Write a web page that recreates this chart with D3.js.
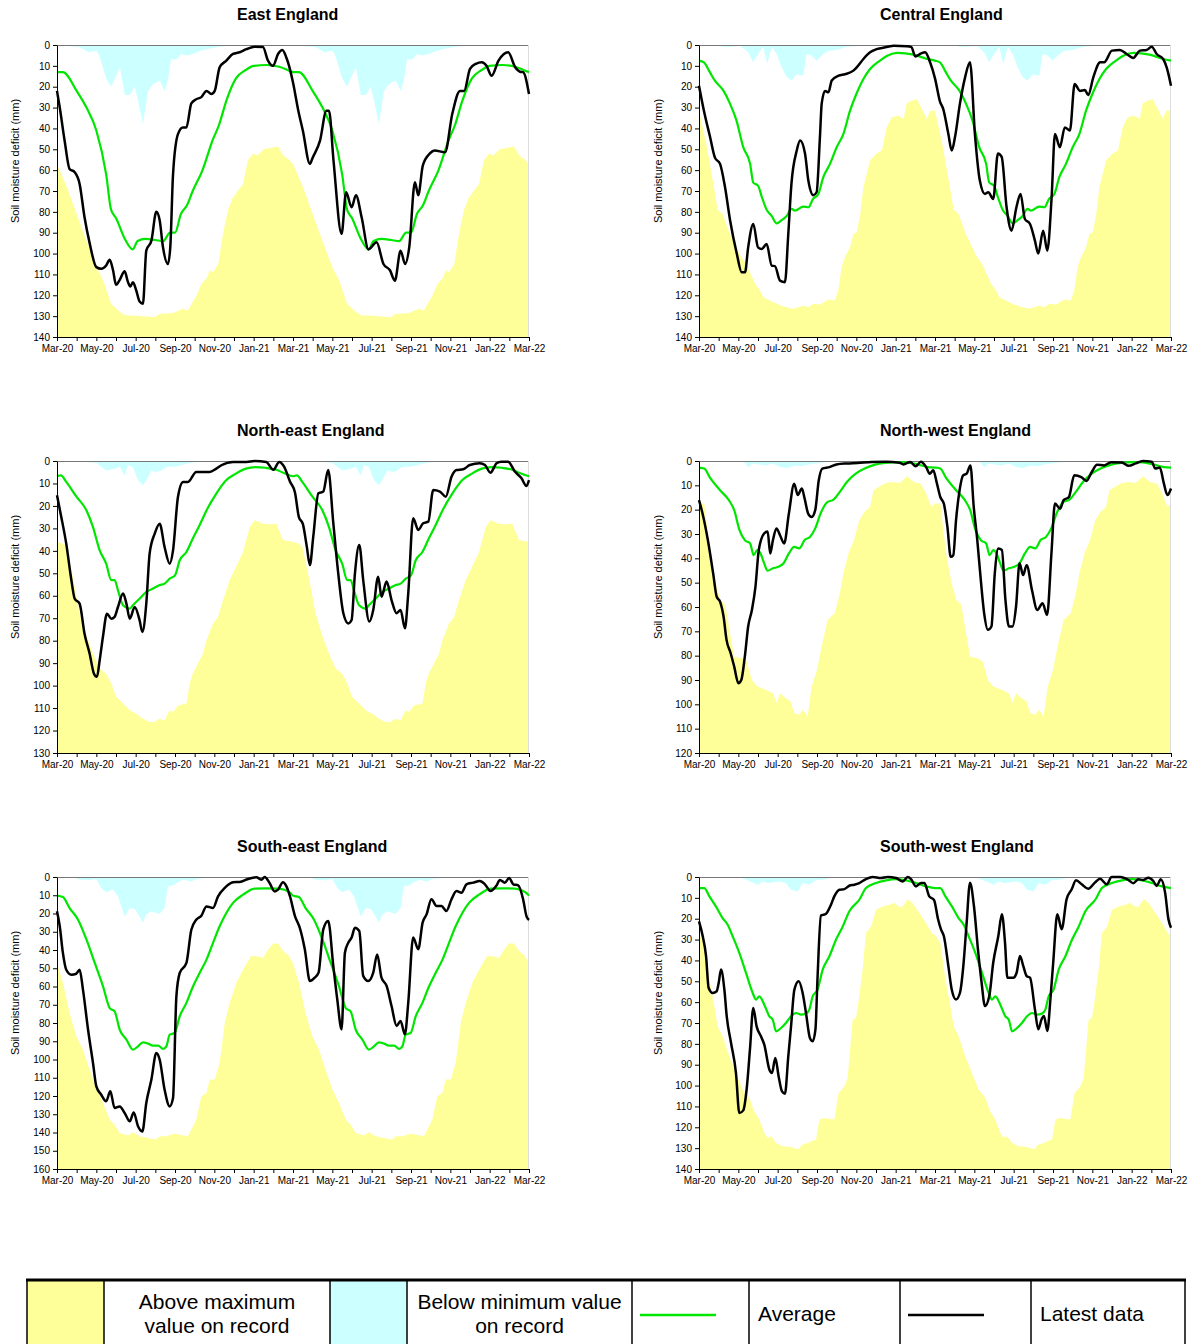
<!DOCTYPE html>
<html>
<head>
<meta charset="utf-8">
<script src="https://cdn.jsdelivr.net/npm/d3@7"></script>
<style>
  body { margin: 0; background: #fff; }
  svg { display: block; font-family: "Liberation Sans", Arial, sans-serif; }
</style>
</head>
<body>
<svg id="chart" width="1192" height="1344"></svg>
<script>
"use strict";

// x values are months after Mar-20 (0 = Mar-20, 24 = Mar-22)
const tickLabels = ["Mar-20", "May-20", "Jul-20", "Sep-20", "Nov-20", "Jan-21", "Mar-21",
                    "May-21", "Jul-21", "Sep-21", "Nov-21", "Jan-22", "Mar-22"];

// long term statistics, one year (Mar to Mar), the same for both years shown
const eastAvg = [[0,13],[0.3,13],[1,22],[1.5,30],[2,41],[2.5,62],[2.75,79],[3,83],[3.45,93],[3.85,98],[4.1,94],[4.5,93],[5,93.5],[5.4,94],[5.75,90],[6,90],[6.3,81],[6.6,77],[6.9,70],[7.4,60],[7.9,46],[8.25,38],[8.6,27],[9.1,16],[9.6,12],[10,10],[10.65,9.6],[11.3,10.4],[11.8,12.3],[12,13]];
const eastMax = [[0,57],[0.5,68],[1,81],[1.5,94],[2,106.5],[2.35,113],[2.75,124],[3.2,128],[3.5,129.7],[3.85,129.7],[4.37,130],[4.97,130.5],[5.2,129],[5.9,128.5],[6.4,126.5],[6.65,127.3],[7.1,120],[7.35,114.5],[7.6,112],[7.77,108],[7.93,109],[8.2,105],[8.44,90.5],[8.7,79],[8.95,73],[9.46,66.6],[9.7,55.4],[9.97,52],[10.2,53],[10.5,50],[11.24,48.7],[11.5,53],[11.8,55],[12,57]];
const eastMin = [[0,0],[0.3,0],[0.65,0.6],[1.15,1],[1.6,3.5],[2,2.7],[2.15,5],[2.5,16],[2.75,20],[3,14.7],[3.2,10.7],[3.45,24],[3.7,24],[3.95,20],[4.12,26.7],[4.37,38],[4.63,22],[4.88,18.7],[5.05,18],[5.22,17],[5.47,22],[5.64,17],[5.8,6.7],[6.07,7],[6.32,4.3],[6.58,5],[6.9,4.3],[7.25,3],[7.6,2],[8.27,0.8],[9.1,0],[12,0]];
const eastLatest = [[0,22],[0.14,30],[0.39,46],[0.64,59.4],[0.9,61],[1.15,66.6],[1.4,82.6],[1.66,95],[2,106.5],[2.25,107.3],[2.5,105.7],[2.68,103],[2.85,108],[3,115],[3.19,112.6],[3.44,108.5],[3.61,113.7],[3.73,115.8],[3.86,113.7],[4.03,117.7],[4.2,123],[4.37,124],[4.54,98.6],[4.8,93.8],[5.05,80],[5.22,84],[5.39,97],[5.64,105],[5.76,97],[5.9,62],[6.15,42.7],[6.4,39.5],[6.58,39.5],[6.83,28],[7.08,26],[7.34,25],[7.6,22],[7.85,23.5],[8.02,22],[8.27,10.7],[8.61,7.5],[8.95,4.3],[9.29,3.5],[9.63,2],[10.05,0.8],[10.47,1],[10.73,7.5],[10.98,10],[11.24,4.3],[11.46,2.4],[11.66,6],[11.8,10],[12,18],[12.27,31.5],[12.5,41],[12.86,57],[13,54],[13.37,46],[13.7,31.5],[13.83,31.5],[14.06,55.4],[14.47,90.5],[14.7,70.6],[14.98,77.8],[15.2,72],[15.49,82.6],[15.84,98],[16.25,94.6],[16.6,105],[16.93,108],[17.18,113],[17.47,98.6],[17.7,105],[17.91,97],[18.2,65.8],[18.37,72],[18.6,57.8],[18.96,52],[19.2,50.6],[19.73,51.4],[20.1,33],[20.49,22],[20.7,22],[21,11.5],[21.3,9],[21.6,8.3],[21.84,10],[22.1,14.7],[22.45,7.5],[22.94,3.5],[23.3,10.7],[23.54,12.8],[23.7,13],[24,23.5]];

const centralAvg = [[0,7.5],[0.25,8.3],[0.55,13],[0.8,17],[1.25,22],[1.57,28],[1.9,36],[2.25,49],[2.6,57],[2.76,66],[3,67.4],[3.2,73],[3.44,79],[3.7,82],[3.95,85.5],[4.2,84],[4.46,82],[4.7,78.6],[4.88,79.4],[5.3,77.5],[5.56,77.8],[5.8,73.8],[6.07,71.4],[6.32,63.4],[6.66,57],[7,49],[7.34,42.7],[7.68,31.5],[8,23.5],[8.36,16.3],[8.7,11.5],[9.2,7.5],[9.6,5],[10.1,3.8],[10.9,4.6],[11.6,6.7],[12,7.5]];
const centralMax = [[0,31.5],[0.36,47],[0.7,65],[0.95,79],[1.2,81],[1.57,90.6],[2.1,101],[2.4,105],[2.85,114.5],[3.1,117.7],[3.27,121],[3.78,123.3],[4.3,125.4],[4.8,126.5],[5.3,125],[5.56,125.7],[5.8,124],[6.15,124.4],[6.58,122],[6.9,122.5],[7.08,117.7],[7.25,106.5],[7.42,101.8],[7.68,97],[7.85,90.6],[8.02,89.8],[8.2,81],[8.36,68],[8.7,55.4],[9.03,52],[9.3,50.6],[9.54,39.5],[9.8,34.7],[10.13,33.9],[10.4,35.5],[10.56,28],[10.8,26.7],[11.07,26],[11.3,30],[11.58,35.5],[11.75,31.5],[12,31.5]];
const centralMin = [[0,0],[0.9,0],[1.22,0.8],[1.58,1],[2.1,0.3],[2.5,3.5],[2.76,8.3],[3,4.3],[3.27,1],[3.47,9],[3.7,1],[3.95,4.3],[4.2,10.7],[4.46,15.5],[4.71,17],[4.97,14],[5.3,14.7],[5.47,4.3],[5.73,5],[5.98,7.5],[6.32,4.3],[6.58,2.7],[7,2.4],[7.5,1],[8.2,0.3],[8.9,0],[12,0]];
const centralLatest = [[0,19.5],[0.25,31.5],[0.56,44],[0.81,54],[1.07,57],[1.32,68],[1.58,84],[1.92,100],[2.17,109],[2.34,109],[2.5,97],[2.76,85.8],[3,97],[3.19,97.8],[3.44,95.4],[3.7,105.8],[3.86,106],[4.12,113],[4.37,113.7],[4.54,90.6],[4.7,66.6],[4.97,50.6],[5.14,45.8],[5.39,52],[5.56,65],[5.81,72],[5.98,70.6],[6.15,44],[6.24,28],[6.41,22],[6.58,22.7],[6.75,17],[7.1,14.7],[7.42,14],[7.85,12.3],[8.02,10.7],[8.36,6.7],[8.7,3.5],[9.03,2],[9.54,1],[9.9,0.3],[10.56,0.6],[10.8,1],[11,5.5],[11.3,4],[11.5,3.5],[11.75,8.3],[12,16],[12.25,27],[12.42,30.7],[12.68,42.7],[12.85,50.6],[13.02,44],[13.27,28],[13.53,15.5],[13.78,8.3],[14.03,42.7],[14.28,65],[14.54,71.4],[14.71,70.6],[14.96,73.8],[15.2,52],[15.39,53.6],[15.64,77.8],[15.89,89],[16.14,77.8],[16.35,71.4],[16.57,83.4],[16.83,85.8],[17.08,93.8],[17.25,100],[17.5,89],[17.71,98.6],[17.93,73],[18.1,42.7],[18.35,49],[18.6,39.5],[18.86,41],[19.1,18.7],[19.37,22],[19.62,21.6],[19.79,24],[20.05,15.5],[20.4,8.3],[20.6,8.3],[21,2.7],[21.4,2.4],[21.74,4.3],[22.08,6.2],[22.42,2.7],[22.76,2.4],[23.02,0.8],[23.27,4.3],[23.6,6.7],[23.78,10.7],[24,19.5]];

const neAvg = [[0,6.8],[0.2,6.4],[0.47,9.3],[1,16],[1.5,22],[1.83,29.4],[2.17,39.8],[2.5,45.7],[2.76,53],[2.93,53],[3.1,57.6],[3.36,64.2],[3.7,65.7],[3.86,64.2],[4.2,61.3],[4.54,58.3],[4.88,56.8],[5.2,55.3],[5.47,54.6],[5.73,52.4],[6,50.9],[6.24,44.2],[6.58,40.5],[6.9,34.6],[7.25,28.6],[7.6,22],[8.1,14.5],[8.6,8.6],[9.1,5.6],[9.6,3.4],[10.1,2.7],[10.6,3],[11.15,3.9],[11.6,5.6],[12,6.8]];
const neMax = [[0,36],[0.3,36.8],[0.47,38],[0.8,51.6],[1.15,68],[1.5,78],[1.83,85.8],[2.17,92.4],[2.5,94.7],[2.76,99],[3,105],[3.36,108],[3.7,111],[4.03,112.5],[4.37,114.7],[4.7,116.2],[4.97,116.2],[5.2,114.7],[5.47,115.4],[5.73,111],[5.9,111.7],[6.15,108.8],[6.58,108],[6.75,99],[6.9,94.7],[7.17,90.2],[7.42,85.8],[7.6,79.8],[7.93,72.4],[8.19,69.4],[8.44,62],[8.78,53],[9.1,47.2],[9.46,40.5],[9.8,29.4],[10.05,26.4],[10.47,27.9],[10.81,28.2],[11.15,27.9],[11.5,35.3],[12,36]];
const neMin = [[0,0],[1.3,0],[1.5,0.4],[2,0.9],[2.5,4.2],[2.93,3.4],[3.2,2.7],[3.44,6.4],[3.61,1.9],[3.86,2.7],[4.12,8.6],[4.37,10.8],[4.54,8.6],[4.8,4.2],[5.05,4.9],[5.3,4.2],[5.56,2.7],[6.07,2.4],[6.58,1.2],[7.08,0.4],[7.25,0],[12,0]];
const neLatest = [[0,15.3],[0.22,25],[0.47,36.8],[0.73,53],[0.9,61.3],[1.15,63.5],[1.4,76.9],[1.66,85.8],[1.88,94.7],[2.03,96.1],[2.17,88.7],[2.34,78],[2.54,68],[2.76,70.2],[2.93,69.4],[3.1,65],[3.36,59],[3.53,63.5],[3.7,70.2],[3.95,65],[4.2,70.9],[4.34,76.1],[4.54,63.5],[4.71,41.2],[4.97,32.3],[5.22,27.9],[5.47,38.3],[5.73,45.7],[5.9,39.8],[6.15,16],[6.41,9.3],[6.66,9.3],[7.08,4.9],[7.42,4.9],[7.76,4.9],[8.1,3.4],[8.36,1.9],[8.95,0.4],[9.63,0.4],[10.05,0],[10.64,0.4],[11,3.9],[11.3,0.4],[11.56,2.7],[11.84,9],[12.1,14],[12.3,25],[12.5,28],[12.7,38],[12.86,46.3],[13.03,33.7],[13.29,14.4],[13.54,13.6],[13.79,4],[14.05,27.7],[14.3,50],[14.56,67.8],[14.81,72.3],[14.98,70.8],[15.15,50],[15.37,37.4],[15.57,53],[15.88,71.5],[16.08,66.3],[16.33,51.5],[16.5,60.4],[16.76,53.7],[17.01,61.9],[17.27,67.8],[17.47,66.3],[17.69,74.5],[17.86,58.9],[18.11,25.5],[18.37,30.7],[18.62,27.7],[18.88,27],[19.13,12.9],[19.47,13.6],[19.77,15.9],[20.06,7],[20.31,4],[20.65,3.7],[20.99,1.8],[21.5,1],[21.76,1.8],[22.04,5.2],[22.35,1],[22.6,0.3],[22.94,0.3],[23.28,4.7],[23.62,7.7],[23.87,11.1],[24,8.5]];

const nwAvg = [[0,2.7],[0.27,3.1],[0.54,6.6],[1.07,12],[1.52,16.1],[1.79,20.2],[2.06,28.4],[2.33,32.5],[2.6,33.9],[2.78,38.7],[2.96,36.6],[3.13,38],[3.31,42],[3.49,45.1],[3.76,44.1],[4.03,43.5],[4.3,42],[4.57,38],[4.84,35.3],[5.1,35.9],[5.37,32.5],[5.64,31.2],[5.91,27.7],[6.18,21.6],[6.54,16.8],[6.8,16.1],[7.16,12.7],[7.52,8.6],[7.97,5.2],[8.42,3.1],[8.96,1.5],[9.5,0.8],[10.03,0.5],[10.57,0.6],[11.1,1.4],[11.64,2.5],[12,2.7]];
const nwMax = [[0,17.5],[0.27,17.5],[0.54,36.6],[0.81,49],[1.07,57],[1.34,59],[1.52,68],[1.79,80.4],[2.15,81],[2.42,82.4],[2.69,90],[2.96,92.7],[3.4,94],[3.76,95.4],[3.94,99.5],[4.12,95.4],[4.39,97.4],[4.66,98.8],[4.84,103.6],[5.1,104.3],[5.28,102.2],[5.52,105],[5.73,92.7],[6,85.8],[6.27,74.9],[6.54,65.3],[6.9,62.6],[7.16,54.4],[7.34,46.2],[7.6,38],[7.88,32.5],[8.15,24.3],[8.42,20.9],[8.69,18.9],[8.87,12],[9.13,10.7],[9.5,9],[9.85,8.6],[10.21,9],[10.57,6.3],[10.93,8.6],[11.28,9.3],[11.55,13.4],[11.82,18.9],[12,17.5]];
const nwMin = [[0,0],[2.1,0],[2.33,0.8],[2.51,2.7],[2.69,1],[3.04,1.4],[3.4,1.8],[3.76,1],[4.12,2.5],[4.48,2.9],[4.84,1.8],[5.19,2.2],[5.55,1.4],[5.91,1],[6.45,0.5],[6.99,0],[12,0]];
const nwLatest = [[0,16.1],[0.18,21.6],[0.45,32.5],[0.72,46.2],[0.9,55.8],[1.07,57.8],[1.25,64],[1.4,73.5],[1.61,79],[1.79,84.5],[2,91.3],[2.15,90],[2.33,80.4],[2.5,68],[2.69,61.2],[2.87,51.7],[3.04,36.6],[3.31,29.8],[3.49,29],[3.62,38],[3.76,32.5],[3.94,27.7],[4.12,30.5],[4.33,33.9],[4.57,21.6],[4.84,9.3],[5.02,14],[5.23,11.3],[5.37,15.4],[5.55,21.6],[5.73,23],[5.91,20.2],[6.09,7.9],[6.27,3.1],[6.63,2.5],[6.99,1.4],[7.52,1],[8.06,0.8],[8.78,0.4],[9.5,0.3],[10.2,0.7],[10.39,1.4],[10.75,0.4],[11.02,2.2],[11.28,0.3],[11.55,2.5],[11.73,5.2],[11.91,3.8],[12.1,9.3],[12.27,14.8],[12.45,17.5],[12.63,27],[12.8,39.4],[12.93,38.7],[13.07,24.3],[13.25,12],[13.43,5.9],[13.61,5.2],[13.8,1.8],[13.97,18.9],[14.15,32.5],[14.33,49],[14.5,62.6],[14.69,69.4],[14.87,68],[15.04,46.2],[15.22,36],[15.4,36.6],[15.58,57],[15.76,68],[15.94,68],[16.12,59.9],[16.3,42],[16.48,46.9],[16.66,42.8],[16.93,53],[17.2,61.2],[17.47,58.5],[17.7,63.3],[17.92,38],[18.1,17.5],[18.36,19.6],[18.54,16.1],[18.81,14.8],[19.08,5.9],[19.44,6.6],[19.7,8.2],[19.97,4.5],[20.24,1.5],[20.6,1.8],[20.96,0.5],[21.5,0.6],[21.85,2],[22.21,1],[22.57,0],[23.02,0.3],[23.2,3.1],[23.43,2.7],[23.64,9.3],[23.82,14],[24,11.3]];

const seAvg = [[0,10.2],[0.3,11],[0.64,17],[1.07,23.4],[1.5,34.3],[1.92,47.1],[2.34,59.9],[2.68,71.8],[2.93,73.6],[3.19,83.7],[3.53,89.1],[3.86,94.6],[4.12,92.8],[4.37,90.6],[4.63,91.3],[4.88,92.4],[5.14,92.4],[5.4,94.2],[5.56,92.8],[5.73,86.4],[5.98,85.5],[6.24,76.3],[6.58,69],[6.92,59.9],[7.25,52.6],[7.6,45.3],[7.93,36.2],[8.27,27],[8.61,19.7],[8.95,14.2],[9.46,9.7],[10.05,6.4],[10.64,6.2],[11.3,6.4],[11.83,8.4],[12,10.2]];
const seMax = [[0,47.1],[0.3,58],[0.64,74.5],[0.98,87.3],[1.32,94.6],[1.66,105.6],[2,116.5],[2.34,123.8],[2.68,133],[2.93,135.7],[3.19,140.3],[3.61,141.7],[3.86,139.9],[4.2,142.1],[4.63,143],[5.05,143.9],[5.22,142.1],[5.56,142.1],[6,140.6],[6.32,141.4],[6.66,142.1],[6.83,138.4],[7.08,133],[7.34,120.2],[7.6,118.4],[7.76,111],[8.02,111],[8.27,101.9],[8.53,80],[8.78,69],[9.12,58],[9.46,50.8],[9.88,43.1],[10.22,43.5],[10.47,44.4],[10.73,39.8],[10.98,36.5],[11.24,36.5],[11.5,40.7],[11.75,42.6],[12,47.1]];
const seMin = [[0,0],[0.8,0],[1.15,1.5],[1.66,1.8],[2,1.1],[2.25,6],[2.5,8.4],[2.85,6.9],[3.1,10.6],[3.27,16.1],[3.44,21.6],[3.7,17],[3.95,17.5],[4.2,21.6],[4.37,25.2],[4.54,20.6],[4.8,18.8],[5.05,19.7],[5.22,20.1],[5.47,17],[5.64,5.1],[5.9,4.7],[6.15,2.9],[6.41,1.5],[6.83,2.4],[7.08,1.1],[7.6,0.5],[8.27,0],[12,0]];
const seLatest = [[0,18.8],[0.14,27],[0.3,41.6],[0.47,50.8],[0.73,53.5],[0.98,53],[1.15,50.8],[1.32,61.7],[1.58,83.7],[1.83,101.9],[2,114.7],[2.25,119.3],[2.5,122.9],[2.71,117.4],[2.93,126.6],[3.19,125.7],[3.44,129.3],[3.7,133.9],[3.9,129],[4.12,136.6],[4.34,139.4],[4.54,123.8],[4.8,111],[5.05,96.4],[5.22,100],[5.47,116.5],[5.73,125.7],[5.9,121.1],[6.07,65.4],[6.24,52.6],[6.58,47.1],[6.83,28.9],[7.08,23.4],[7.34,21.2],[7.6,16.1],[7.93,17],[8.19,10.6],[8.53,6],[8.95,2.9],[9.29,2.7],[9.71,1.1],[10.14,0.2],[10.39,1.5],[10.56,0],[10.81,3.3],[11.07,7.9],[11.24,6.9],[11.49,2.9],[11.66,5],[11.84,10.4],[12.1,21.4],[12.35,28],[12.6,39.6],[12.86,57],[13.1,55.2],[13.3,52.4],[13.54,28.7],[13.79,24.1],[14.05,48.8],[14.25,67],[14.47,83.5],[14.64,41.5],[14.81,36],[14.98,33.2],[15.15,27.8],[15.37,29.6],[15.57,54.2],[15.82,57],[16.08,52.4],[16.28,42.4],[16.5,55.2],[16.76,59.7],[17.01,70.7],[17.27,81.6],[17.47,78.9],[17.69,86.2],[17.86,68.9],[18.11,33.2],[18.37,39.6],[18.59,25],[18.79,20.5],[19.04,12.2],[19.3,15.9],[19.55,15.9],[19.8,18.6],[20.06,12.2],[20.31,7.7],[20.57,8.6],[20.82,4],[21.16,3.1],[21.5,2.2],[21.76,4],[22.04,7.7],[22.35,4.6],[22.52,1.6],[22.77,3.1],[22.99,0.5],[23.2,4],[23.45,4.6],[23.7,12.2],[23.87,21.4],[24,23.6]];

const swAvg = [[0,5.3],[0.27,5.3],[0.53,9.3],[0.86,14.1],[1.2,19.7],[1.46,22.9],[1.71,28.4],[2.05,36.4],[2.39,46],[2.73,55.6],[2.9,58.8],[3.07,57.2],[3.32,61.2],[3.58,66.8],[3.75,68.4],[3.92,74],[4.17,72.4],[4.42,70],[4.68,66.8],[4.93,65.2],[5.19,66],[5.44,65.5],[5.61,63.6],[5.78,57.2],[6.03,54],[6.29,44.4],[6.63,38],[6.97,30],[7.31,23.7],[7.64,16.5],[8.15,10.9],[8.49,5.3],[9,2.9],[9.51,1.6],[10.02,1],[10.53,1.6],[11.03,2.9],[11.54,4.5],[12,5.3]];
const swMax = [[0,27.6],[0.27,31.6],[0.53,49.2],[0.78,62],[0.95,71.6],[1.2,76.4],[1.54,86],[1.88,94],[2.22,102],[2.56,106],[2.81,112.4],[3.07,116.3],[3.32,122.7],[3.49,125.1],[3.66,124.3],[3.92,127.5],[4.25,129.1],[4.68,129.5],[5.02,130.7],[5.27,128.3],[5.53,127.5],[5.7,126.7],[5.95,126],[6.12,116.3],[6.37,115.5],[6.63,116],[6.88,116.3],[7.1,103.6],[7.39,100.4],[7.56,96.4],[7.81,68.4],[7.98,67.6],[8.15,57.2],[8.32,44.4],[8.49,26.8],[8.75,23.7],[9,15.7],[9.34,14.1],[9.68,13.3],[9.93,12.5],[10.19,14.4],[10.36,14.1],[10.61,10.5],[10.86,12.5],[11.2,17.3],[11.54,22],[11.88,27.6],[12,27.6]];
const swMin = [[0,0],[2.05,0],[2.39,1.3],[2.73,2.6],[2.98,3.7],[3.24,2.1],[3.49,2.9],[3.75,2.6],[4.08,2.1],[4.42,2.9],[4.68,6.1],[5.02,6.9],[5.27,2.9],[5.61,3.7],[5.95,1.6],[6.29,1.3],[6.71,0.5],[7.14,0],[12,0]];
const swLatest = [[0,21.3],[0.19,28.4],[0.36,38],[0.49,53.2],[0.7,55.6],[0.9,54.8],[1,50.8],[1.12,44.4],[1.29,54],[1.41,66.8],[1.63,79.6],[1.88,94],[2.05,113.2],[2.25,111.9],[2.42,102],[2.59,82.8],[2.76,62.8],[2.93,71.6],[3.15,76.4],[3.32,80.4],[3.58,92.4],[3.71,94],[3.88,86.8],[4.05,95.6],[4.22,102.8],[4.37,103.9],[4.54,86],[4.68,71.6],[4.85,54],[5.07,50],[5.27,55.6],[5.44,65.2],[5.64,77.2],[5.78,78.8],[5.92,73.2],[6.03,47.6],[6.2,18.5],[6.46,17.6],[6.71,13.3],[6.88,9.3],[7.14,6.1],[7.39,5.8],[7.64,4.2],[7.9,3.7],[8.15,2.9],[8.49,1],[8.83,0],[9.25,0.5],[9.59,0],[10.02,0.5],[10.36,2.1],[10.61,0],[10.78,1],[11.03,4.5],[11.29,2.9],[11.46,2.9],[11.71,9.3],[11.95,11],[12.15,20],[12.3,25],[12.45,28.3],[12.68,42.7],[12.85,53.9],[13.07,58.7],[13.27,55.5],[13.44,42.7],[13.61,21.9],[13.78,2.7],[13.98,13.9],[14.2,36.3],[14.37,50.7],[14.54,61.9],[14.76,57.1],[14.96,41.1],[15.22,28.3],[15.4,17.9],[15.56,31.5],[15.68,48.3],[15.98,48.3],[16.15,45.9],[16.32,37.9],[16.49,42.7],[16.66,47.5],[16.83,48.3],[17.08,63.4],[17.25,73],[17.42,68.2],[17.54,66.6],[17.71,73.8],[17.88,57.1],[18.01,41.1],[18.22,17.9],[18.44,25.1],[18.69,10.7],[18.95,5.9],[19.17,1.6],[19.46,3.5],[19.79,5.6],[20.13,2.7],[20.39,0.8],[20.73,3.5],[20.98,0],[21.41,0],[21.83,1.4],[22.08,3],[22.34,1.1],[22.59,1.4],[22.85,0.3],[23.1,1.9],[23.27,4.3],[23.48,1.1],[23.7,7.5],[23.87,20.3],[24,24.3]];

const panels = [
    {title: "East England",       yMax: 140, col: 0, row: 0, avg: eastAvg,    max: eastMax,    min: eastMin,    latest: eastLatest},
    {title: "Central England",    yMax: 140, col: 1, row: 0, avg: centralAvg, max: centralMax, min: centralMin, latest: centralLatest},
    {title: "North-east England", yMax: 130, col: 0, row: 1, avg: neAvg,      max: neMax,      min: neMin,      latest: neLatest},
    {title: "North-west England", yMax: 120, col: 1, row: 1, avg: nwAvg,      max: nwMax,      min: nwMin,      latest: nwLatest},
    {title: "South-east England", yMax: 160, col: 0, row: 2, avg: seAvg,      max: seMax,      min: seMin,      latest: seLatest},
    {title: "South-west England", yMax: 140, col: 1, row: 2, avg: swAvg,      max: swMax,      min: swMin,      latest: swLatest}
];

const legendItems = [
    {kind: "swatch", color: "#ffff99", text: ["Above maximum", "value on record"]},
    {kind: "swatch", color: "#ccffff", text: ["Below minimum value", "on record"]},
    {kind: "line",   color: "#00e600", text: ["Average"]},
    {kind: "line",   color: "#000000", text: ["Latest data"]}
];

const YELLOW = "#ffff99";
const BLUE = "#ccffff";
const GREEN = "#00e600";

const svg = d3.select("#chart");
const W = 472, H = 292;

// the long term statistics repeat for the second year
function twoYears(arr) {
    return arr.concat(arr.slice(1).map(d => [d[0] + 12, d[1]]));
}

function drawPanel(p) {
    const x0 = p.col ? 699 : 57;
    const y0 = 45 + p.row * 416;
    const g = svg.append("g").attr("transform", `translate(${x0},${y0})`);

    const x = d3.scaleLinear().domain([0, 24]).range([0, W]);
    const y = d3.scaleLinear().domain([0, p.yMax]).range([0, H]);

    g.append("path")
        .datum(twoYears(p.max))
        .attr("fill", YELLOW)
        .attr("d", d3.area().x(d => x(d[0])).y0(H).y1(d => y(d[1])));

    g.append("path")
        .datum(twoYears(p.min))
        .attr("fill", BLUE)
        .attr("d", d3.area().x(d => x(d[0])).y0(0).y1(d => y(d[1])));

    // plot frame top and right
    g.append("line").attr("x1", 0).attr("x2", W).attr("y1", 0.5).attr("y2", 0.5)
        .attr("stroke", "#777").attr("stroke-width", 1);
    g.append("line").attr("x1", W - 0.5).attr("x2", W - 0.5).attr("y1", 0).attr("y2", H)
        .attr("stroke", "#ddd").attr("stroke-width", 1);

    const line = d3.line().x(d => x(d[0])).y(d => y(d[1])).curve(d3.curveMonotoneX);

    g.append("path")
        .datum(twoYears(p.avg))
        .attr("fill", "none")
        .attr("stroke", GREEN)
        .attr("stroke-width", 2.2)
        .attr("d", line);

    g.append("path")
        .datum(p.latest)
        .attr("fill", "none")
        .attr("stroke", "#000")
        .attr("stroke-width", 2.5)
        .attr("stroke-linejoin", "round")
        .attr("d", line);

    const yAxis = d3.axisLeft(y)
        .tickValues(d3.range(0, p.yMax + 1, 10))
        .tickSize(4).tickSizeOuter(0).tickPadding(3);
    g.append("g").call(yAxis)
        .call(a => a.selectAll("text").attr("font-size", 10).attr("fill", "#000"))
        .call(a => a.select(".domain").attr("stroke", "#000"));

    const xAxis = d3.axisBottom(x)
        .tickValues(d3.range(0, 25))
        .tickFormat(i => i % 2 ? "" : tickLabels[i / 2])
        .tickSize(4).tickSizeOuter(0).tickPadding(4);
    g.append("g").attr("transform", `translate(0,${H})`).call(xAxis)
        .call(a => a.selectAll("text").attr("font-size", 10).attr("fill", "#000"))
        .call(a => a.select(".domain").attr("stroke", "#000"));

    svg.append("text")
        .attr("x", p.col ? 880 : 237)
        .attr("y", y0 - 25)
        .attr("font-size", 16)
        .attr("font-weight", "bold")
        .text(p.title);

    svg.append("text")
        .attr("transform", `translate(${p.col ? 662 : 19},${y0 + 116}) rotate(-90)`)
        .attr("text-anchor", "middle")
        .attr("font-size", 11)
        .text("Soil moisture deficit (mm)");
}

panels.forEach(drawPanel);

// legend table
const cellEdges = [27, 104, 330, 407, 632, 749, 900, 1031, 1185];
const legTop = 1280;
const leg = svg.append("g");

legendItems.forEach((item, i) => {
    const a = cellEdges[i * 2], b = cellEdges[i * 2 + 1], c = cellEdges[i * 2 + 2];
    if (item.kind === "swatch") {
        leg.append("rect").attr("x", a).attr("y", legTop).attr("width", b - a).attr("height", 1344 - legTop)
            .attr("fill", item.color);
        const t = leg.append("text").attr("text-anchor", "middle").attr("font-size", 21);
        item.text.forEach((s, k) => {
            t.append("tspan").attr("x", (b + c) / 2).attr("y", legTop + 29 + k * 24).text(s);
        });
    } else {
        leg.append("line").attr("x1", a + 8).attr("x2", a + 84).attr("y1", legTop + 35).attr("y2", legTop + 35)
            .attr("stroke", item.color).attr("stroke-width", 2.5);
        leg.append("text").attr("x", b + 9).attr("y", legTop + 41).attr("font-size", 21).text(item.text[0]);
    }
});

cellEdges.forEach(e => {
    leg.append("line").attr("x1", e).attr("x2", e).attr("y1", legTop).attr("y2", 1344)
        .attr("stroke", "#000").attr("stroke-width", 1.5);
});
leg.append("line").attr("x1", cellEdges[0] - 1).attr("x2", cellEdges[cellEdges.length - 1] + 1)
    .attr("y1", legTop).attr("y2", legTop)
    .attr("stroke", "#000").attr("stroke-width", 3);
</script>
</body>
</html>
